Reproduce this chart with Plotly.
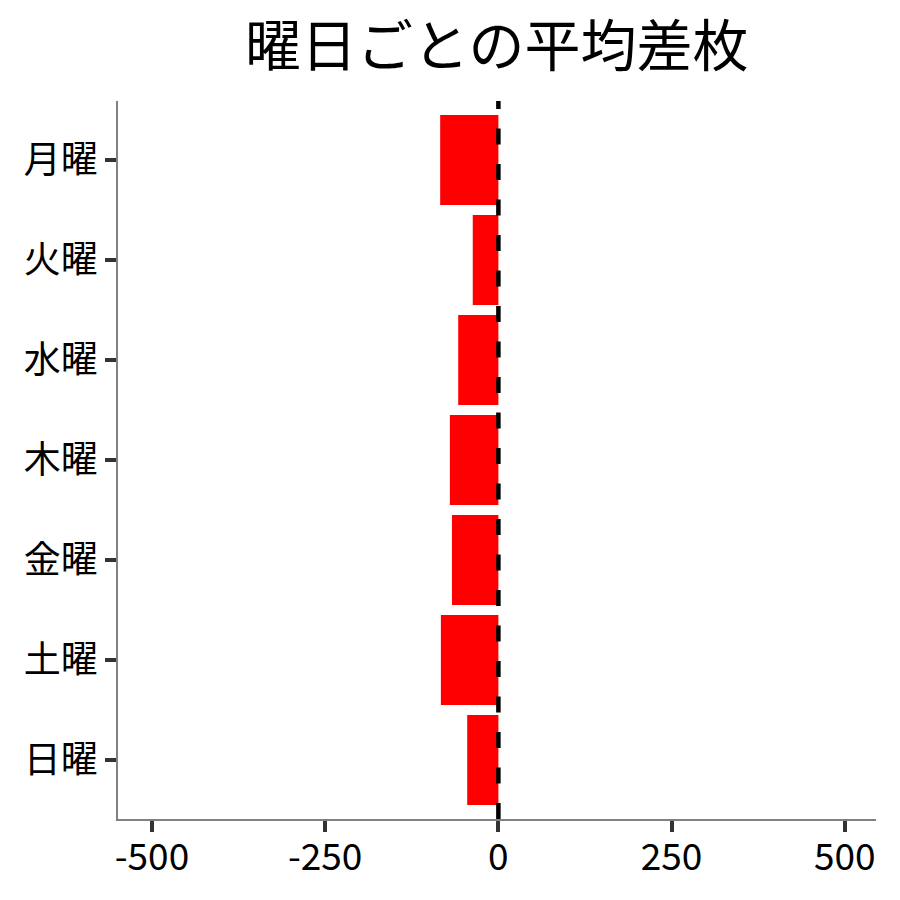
import plotly.graph_objects as go


days = ["月曜", "火曜", "水曜", "木曜", "金曜", "土曜", "日曜"]
avg_diff = [-84, -37, -58, -70, -67, -83, -45]
x_ticks = [-500, -250, 0, 250, 500]

font_family = "Noto Sans CJK JP"

fig = go.Figure()

fig.add_trace(go.Bar(
    x=avg_diff,
    y=days,
    orientation="h",
    width=0.9,
    marker=dict(color="#ff0000", line=dict(width=0)),
    showlegend=False,
))

# zero reference line (drawn bottom -> top so the dash phase matches)
fig.add_shape(
    type="line", x0=0, x1=0, xref="x", y0=0, y1=1, yref="paper",
    line=dict(color="black", width=4.5, dash="16px,19.5px"),
)

fig.update_layout(
    width=900,
    height=900,
    plot_bgcolor="white",
    paper_bgcolor="white",
    margin=dict(l=110, r=32, t=93, b=89),
    title=dict(
        text="曜日ごとの平均差枚",
        x=0.543, xanchor="center",
        y=0.957, yanchor="middle",
        font=dict(family=font_family, size=56, color="black"),
    ),
    font=dict(family=font_family, color="black"),
    bargap=0.1,
)

fig.update_xaxes(
    range=[-549, 545],
    tickvals=x_ticks,
    ticktext=[str(v) for v in x_ticks],
    showgrid=False,
    zeroline=False,
    showline=True,
    linecolor="#808080",
    linewidth=1.5,
    ticks="outside",
    ticklen=11,
    tickwidth=4,
    tickcolor="#333333",
    ticklabelstandoff=-6,
    tickfont=dict(family=font_family, size=37, color="black"),
)

fig.update_yaxes(
    categoryorder="array",
    categoryarray=days,
    range=[6.59, -0.59],
    showgrid=False,
    zeroline=False,
    showline=True,
    linecolor="#808080",
    linewidth=1.5,
    ticks="outside",
    ticklen=11,
    tickwidth=4,
    tickcolor="#333333",
    tickfont=dict(family=font_family, size=37, color="black"),
)

fig.write_html("out.html")
